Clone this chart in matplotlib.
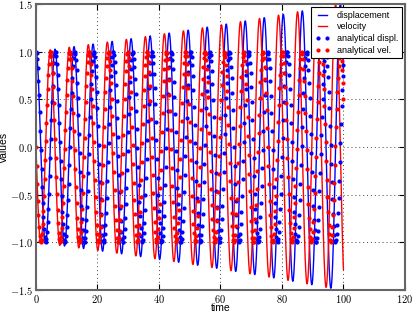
import numpy as np
import matplotlib
matplotlib.use('Agg')
import matplotlib.pyplot as plt
import matplotlib.ticker as mticker

# --- values ---
T_END = 100.0          # last time of the numerical run
DT_NUM = 0.01          # numerical step (curve looks smooth)
DT_ANA = 0.2           # spacing of the analytical dots
OMEGA_NUM = 1.0155     # numerical solution runs slightly fast (leads the dots)
GROWTH = 0.0041        # amplitude grows ~1.0 -> ~1.5 over 100 time units
X0 = 1.0
V0 = 0.0

X_TICKS = [0, 20, 40, 60, 80, 100, 120]
Y_TICKS = [-1.5, -1.0, -0.5, 0.0, 0.5, 1.0, 1.5]

BLUE = '#0000ff'
RED = '#ff0000'

plt.rcParams['mathtext.fontset'] = 'cm'
plt.rcParams['font.family'] = ['Liberation Sans', 'DejaVu Sans']

# numerical run: step the state forward (rotation + small gain each step)
n = int(round(T_END / DT_NUM)) + 1
t_num = np.arange(n) * DT_NUM
z = np.empty(n, dtype=complex)
z[0] = X0 - 1j * V0
step = (1 + GROWTH * DT_NUM) * np.exp(1j * OMEGA_NUM * DT_NUM)
for i in range(1, n):
    z[i] = z[i - 1] * step
disp = z.real
vel = -z.imag

# analytical samples
t_ana = np.arange(0, T_END + 1e-9, DT_ANA)
disp_ana = X0 * np.cos(t_ana)
vel_ana = -X0 * np.sin(t_ana)

fig = plt.figure(figsize=(4.15, 3.13), dpi=100)
ax = fig.add_axes([0.0867, 0.0735, 0.889, 0.914])

ax.plot(t_num, disp, color=BLUE, lw=1.0, label='displacement')
ax.plot(t_num, vel, color=RED, lw=1.0, label='velocity')
ax.plot(t_ana, disp_ana, '.', color=BLUE, ms=4, label='analytical displ.')
ax.plot(t_ana, vel_ana, '.', color=RED, ms=4, label='analytical vel.')

ax.set_xlim(0, 120)
ax.set_ylim(-1.5, 1.5)
ax.set_xticks(X_TICKS)
ax.set_yticks(Y_TICKS)
ax.xaxis.set_major_formatter(mticker.FuncFormatter(lambda v, p: r'$%d$' % v))
ax.yaxis.set_major_formatter(mticker.FuncFormatter(lambda v, p: r'$%.1f$' % v))
ax.tick_params(direction='in', top=True, right=True, labelsize=7.5, length=4, pad=2)
ax.grid(True, color='#444444', linestyle=(0, (1, 3)), linewidth=0.7)

for s in ax.spines.values():
    s.set_color('#666666')
    s.set_linewidth(1.5)

ax.set_xlabel('time', fontsize=7.5, labelpad=-1)
ax.set_ylabel('Values', fontsize=7.5, labelpad=1)

leg = ax.legend(loc='upper right', fontsize=6.5, numpoints=2, fancybox=False,
                framealpha=1, edgecolor='black', borderaxespad=0.35,
                handlelength=1.6, handletextpad=0.8, borderpad=0.4,
                labelspacing=0.3)
leg.get_frame().set_linewidth(0.8)

fig.savefig('out.png', dpi=100)
